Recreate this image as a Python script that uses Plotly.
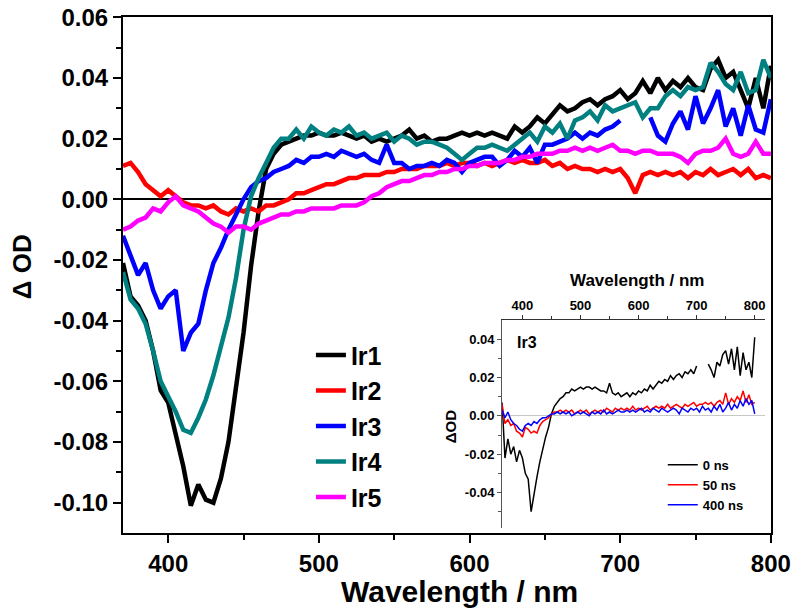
import plotly.graph_objects as go

# ---------------- main panel data ----------------
wavelength = list(range(370, 801, 5))

ir1 = [-0.021, -0.032, -0.035, -0.040, -0.050, -0.063, -0.067, -0.078, -0.088, -0.101,
       -0.094, -0.099, -0.100, -0.092, -0.080, -0.062, -0.044, -0.022, -0.004, 0.010,
       0.015, 0.018, 0.019, 0.020, 0.021, 0.021, 0.022, 0.021, 0.021, 0.022,
       0.021, 0.020, 0.021, 0.019, 0.020, 0.019, 0.020, 0.021, 0.023, 0.020,
       0.021, 0.019, 0.020, 0.020, 0.021, 0.022, 0.021, 0.022, 0.021, 0.022,
       0.021, 0.020, 0.024, 0.022, 0.024, 0.027, 0.025, 0.028, 0.031, 0.029,
       0.030, 0.032, 0.033, 0.031, 0.033, 0.034, 0.036, 0.033, 0.035, 0.039,
       0.035, 0.040, 0.036, 0.039, 0.037, 0.040, 0.037, 0.036, 0.043, 0.046,
       0.040, 0.042, 0.036, 0.030, 0.040, 0.030, 0.044]

ir2 = [0.011, 0.012, 0.009, 0.005, 0.003, 0.001, 0.003, 0.001, -0.001, -0.002,
       -0.002, -0.003, -0.002, -0.004, -0.005, -0.003, -0.004, -0.003, -0.004, -0.002,
       -0.002, -0.001, 0.000, 0.002, 0.002, 0.003, 0.004, 0.005, 0.005, 0.006,
       0.007, 0.007, 0.008, 0.008, 0.008, 0.009, 0.009, 0.010, 0.010, 0.010,
       0.011, 0.011, 0.011, 0.012, 0.011, 0.012, 0.012, 0.011, 0.012, 0.011,
       0.012, 0.013, 0.012, 0.013, 0.012, 0.012, 0.013, 0.011, 0.012, 0.010,
       0.011, 0.010, 0.010, 0.009, 0.010, 0.009, 0.010, 0.007, 0.002, 0.008,
       0.009, 0.008, 0.009, 0.008, 0.009, 0.007, 0.009, 0.008, 0.010, 0.008,
       0.009, 0.010, 0.008, 0.010, 0.007, 0.008, 0.007]

ir3 = [-0.012, -0.019, -0.025, -0.021, -0.030, -0.036, -0.032, -0.030, -0.050, -0.044,
       -0.041, -0.030, -0.021, -0.016, -0.010, -0.005, 0.000, 0.004, 0.006, 0.007,
       0.009, 0.010, 0.011, 0.013, 0.012, 0.014, 0.014, 0.015, 0.014, 0.016,
       0.015, 0.014, 0.015, 0.013, 0.012, 0.018, 0.012, 0.012, 0.010, 0.011,
       0.011, 0.012, 0.011, 0.013, 0.012, 0.009, 0.012, 0.013, 0.014, 0.014,
       0.011, 0.013, 0.016, 0.014, 0.017, 0.012, 0.018, 0.018, 0.019, 0.020,
       0.022, 0.020, 0.022, 0.021, 0.023, 0.024, 0.026, None, None, None,
       0.027, 0.021, 0.019, 0.025, 0.029, 0.023, 0.034, 0.025, 0.030, 0.036,
       0.024, 0.030, 0.021, 0.031, 0.023, 0.022, 0.033]

ir4 = [-0.024, -0.033, -0.036, -0.041, -0.050, -0.060, -0.065, -0.070, -0.076, -0.077,
       -0.072, -0.066, -0.058, -0.049, -0.039, -0.026, -0.010, 0.001, 0.007, 0.012,
       0.017, 0.020, 0.020, 0.023, 0.020, 0.024, 0.022, 0.021, 0.023, 0.022,
       0.024, 0.021, 0.022, 0.020, 0.021, 0.022, 0.019, 0.021, 0.020, 0.018,
       0.019, 0.019, 0.018, 0.017, 0.015, 0.013, 0.015, 0.017, 0.017, 0.018,
       0.017, 0.016, 0.018, 0.020, 0.022, 0.019, 0.024, 0.022, 0.025, 0.020,
       0.026, 0.027, 0.029, 0.026, 0.031, 0.029, 0.030, 0.031, 0.032, 0.027,
       0.030, 0.030, 0.034, 0.036, 0.034, 0.037, 0.036, 0.037, 0.045, 0.042,
       0.038, 0.036, 0.042, 0.035, 0.036, 0.046, 0.040]

ir5 = [-0.010, -0.009, -0.007, -0.006, -0.003, -0.004, -0.001, 0.001, -0.002, -0.003,
       -0.004, -0.006, -0.008, -0.009, -0.011, -0.009, -0.009, -0.010, -0.008, -0.007,
       -0.006, -0.005, -0.005, -0.004, -0.004, -0.003, -0.003, -0.003, -0.003, -0.002,
       -0.002, -0.002, -0.001, 0.001, 0.002, 0.004, 0.005, 0.006, 0.006, 0.007,
       0.008, 0.008, 0.009, 0.009, 0.010, 0.010, 0.011, 0.011, 0.012, 0.012,
       0.012, 0.013, 0.013, 0.014, 0.014, 0.015, 0.015, 0.015, 0.016, 0.016,
       0.017, 0.016, 0.017, 0.016, 0.017, 0.018, 0.016, 0.016, 0.015, 0.016,
       0.016, 0.015, 0.015, 0.015, 0.014, 0.012, 0.015, 0.016, 0.016, 0.017,
       0.020, 0.015, 0.014, 0.015, 0.019, 0.015, 0.015]

series_names = ["Ir1", "Ir2", "Ir3", "Ir4", "Ir5"]
series_colors = ["#000000", "#FF0000", "#0000FF", "#008080", "#FF00FF"]

main_xticks = [400, 500, 600, 700, 800]
main_xminor = [450, 550, 650, 750]
main_yticks = [0.06, 0.04, 0.02, 0.00, -0.02, -0.04, -0.06, -0.08, -0.10]
main_yticktext = ["0.06", "0.04", "0.02", "0.00", "-0.02", "-0.04", "-0.06", "-0.08", "-0.10"]
main_yminor = [0.05, 0.03, 0.01, -0.01, -0.03, -0.05, -0.07, -0.09]

# ---------------- inset data (Ir3) ----------------
inset_wavelength = list(range(365, 801, 5))

ns0 = [0.007, -0.022, -0.012, -0.020, -0.016, -0.024, -0.018, -0.022, -0.030, -0.033,
       -0.050, -0.040, -0.032, -0.024, -0.017, -0.011, -0.006, 0.001, 0.005, 0.007,
       0.009, 0.010, 0.012, 0.012, 0.014, 0.013, 0.014, 0.015, 0.014, 0.015,
       0.015, 0.014, 0.015, 0.014, 0.013, 0.013, 0.012, 0.017, 0.012, 0.011,
       0.012, 0.010, 0.011, 0.012, 0.010, 0.012, 0.011, 0.013, 0.012, 0.014,
       0.013, 0.016, 0.014, 0.016, 0.018, 0.017, 0.019, 0.018, 0.021, 0.019,
       0.021, 0.022, 0.020, 0.023, 0.022, 0.024, 0.022, 0.026, None, None,
       None, 0.027, 0.024, 0.020, 0.028, 0.026, 0.032, 0.034, 0.027, 0.035,
       0.024, 0.036, 0.021, 0.033, 0.024, 0.028, 0.020, 0.041]

ns50 = [0.006, -0.004, -0.002, -0.005, -0.004, -0.008, -0.009, -0.011, -0.006, -0.007,
        -0.009, -0.008, -0.009, -0.005, -0.003, -0.002, -0.001, 0.001, 0.002, 0.002,
        0.003, 0.002, 0.003, 0.002, 0.003, 0.001, 0.002, 0.003, 0.002, 0.003,
        0.001, 0.002, 0.003, 0.002, 0.003, 0.002, 0.004, 0.003, 0.002, 0.004,
        0.003, 0.004, 0.003, 0.004, 0.003, 0.005, 0.003, 0.004, 0.003, 0.004,
        0.005, 0.003, 0.004, 0.005, 0.004, 0.005, 0.004, 0.006, 0.004, 0.005,
        0.006, 0.005, 0.004, 0.006, 0.005, 0.006, 0.007, 0.005, 0.006, 0.006,
        0.007, 0.006, 0.007, 0.005, 0.007, 0.008, 0.006, 0.012, 0.006, 0.009,
        0.007, 0.010, 0.008, 0.013, 0.007, 0.011, 0.006, 0.007]

ns400 = [0.003, -0.001, 0.002, -0.002, -0.004, -0.005, -0.007, -0.008, -0.005, -0.004,
         -0.005, -0.003, -0.004, -0.002, -0.001, -0.001, 0.000, 0.001, 0.001, 0.002,
         0.001, 0.002, 0.001, 0.002, 0.000, 0.001, 0.002, 0.001, 0.002, 0.001,
         0.000, 0.002, 0.001, 0.002, 0.001, 0.003, 0.001, 0.002, 0.001, 0.002,
         0.003, 0.002, 0.002, 0.003, 0.002, 0.003, 0.002, 0.003, 0.004, 0.002,
         0.003, 0.002, 0.004, 0.003, 0.002, 0.004, 0.003, 0.002, 0.003, 0.004,
         0.003, 0.001, 0.004, 0.003, 0.002, 0.004, 0.003, 0.004, 0.002, 0.005,
         0.003, 0.004, 0.002, 0.005, 0.003, 0.006, 0.002, 0.004, 0.007, 0.003,
         0.006, 0.004, 0.008, 0.005, 0.009, 0.006, 0.008, 0.001]

inset_names = ["0 ns", "50 ns", "400 ns"]
inset_colors = ["#000000", "#FF0000", "#0000FF"]

inset_xticks = [400, 500, 600, 700, 800]
inset_xminor = [450, 550, 650, 750]
inset_yticks = [0.04, 0.02, 0.00, -0.02, -0.04]
inset_yticktext = ["0.04", "0.02", "0.00", "-0.02", "-0.04"]
inset_yminor = [0.03, 0.01, -0.01, -0.03, -0.05]

FONT = "Liberation Sans, Arial, sans-serif"

fig = go.Figure()

for name, color, ys in zip(series_names, series_colors, [ir1, ir2, ir3, ir4, ir5]):
    fig.add_trace(go.Scatter(x=wavelength, y=ys, mode="lines", name=name,
                             line=dict(color=color, width=4.5),
                             xaxis="x", yaxis="y", legend="legend"))

for name, color, ys in zip(inset_names, inset_colors, [ns0, ns50, ns400]):
    fig.add_trace(go.Scatter(x=inset_wavelength, y=ys, mode="lines", name=name,
                             line=dict(color=color, width=1.5),
                             xaxis="x2", yaxis="y2", legend="legend2"))

# page body has an 8px margin, so the figure is 792x606 placed at (8, 8)
fig.update_layout(
    width=792, height=606,
    margin=dict(l=115, r=29, t=9, b=81, autoexpand=False),
    paper_bgcolor="white", plot_bgcolor="white",
    font=dict(family=FONT, color="black"),
    xaxis=dict(
        domain=[0, 1], range=[370, 800.1], showgrid=False, zeroline=False, automargin=False,
        showline=True, mirror=True, linecolor="black", linewidth=2,
        ticks="outside", ticklen=8, tickwidth=2, tickcolor="black",
        tickvals=main_xticks, ticklabeloverflow="allow",
        tickfont=dict(size=24, family=FONT, weight="bold"),
        minor=dict(tickvals=main_xminor, ticks="outside", ticklen=5, tickwidth=2, tickcolor="black"),
    ),
    yaxis=dict(
        domain=[0, 1], range=[-0.11, 0.0601], showgrid=False, automargin=False,
        zeroline=True, zerolinecolor="black", zerolinewidth=2,
        showline=True, mirror=True, linecolor="black", linewidth=2,
        ticks="outside", ticklen=8, tickwidth=2, tickcolor="black",
        tickvals=main_yticks, ticktext=main_yticktext, ticklabeloverflow="allow",
        tickfont=dict(size=24, family=FONT, weight="bold"),
        minor=dict(tickvals=main_yminor, ticks="outside", ticklen=5, tickwidth=2, tickcolor="black"),
    ),
    xaxis2=dict(
        domain=[0.585, 0.991], anchor="y2", side="top", range=[365, 818], automargin=False,
        showgrid=False, zeroline=False, showline=True, linecolor="#333333", linewidth=1,
        ticks="outside", ticklen=4, tickwidth=1, tickcolor="#333333",
        tickvals=inset_xticks,
        tickfont=dict(size=13, family=FONT, weight="bold"),
        minor=dict(tickvals=inset_xminor, ticks="outside", ticklen=3, tickwidth=1, tickcolor="#333333"),
    ),
    yaxis2=dict(
        domain=[0.0097, 0.4128], anchor="x2", range=[-0.0585, 0.05], automargin=False,
        showgrid=False, zeroline=True, zerolinecolor="#c8c8c8", zerolinewidth=1,
        showline=True, linecolor="#555555", linewidth=1,
        ticks="outside", ticklen=4, tickwidth=1, tickcolor="#555555",
        tickvals=inset_yticks, ticktext=inset_yticktext,
        tickfont=dict(size=13, family=FONT, weight="bold"),
        minor=dict(tickvals=inset_yminor, ticks="outside", ticklen=3, tickwidth=1, tickcolor="#555555"),
    ),
    legend=dict(
        x=0.290, y=0.389, xanchor="left", yanchor="top",
        bgcolor="rgba(0,0,0,0)", borderwidth=0, tracegroupgap=0,
        font=dict(size=25, family=FONT, weight="bold", color="black"),
    ),
    legend2=dict(
        x=0.833, y=0.161, xanchor="left", yanchor="top",
        bgcolor="rgba(0,0,0,0)", borderwidth=0, tracegroupgap=0,
        font=dict(size=13, family=FONT, weight="bold", color="black"),
    ),
    annotations=[
        dict(text="Wavelength / nm", xref="paper", yref="paper", x=0.52, y=-0.114,
             xanchor="center", yanchor="middle", showarrow=False,
             font=dict(size=30, family=FONT, weight="bold")),
        dict(text="Δ OD", xref="paper", yref="paper", x=-0.156, y=0.517,
             xanchor="center", yanchor="middle", showarrow=False, textangle=-90,
             font=dict(size=26, family=FONT, weight="bold")),
        dict(text="Wavelength / nm", xref="paper", yref="paper", x=0.793, y=0.490,
             xanchor="center", yanchor="middle", showarrow=False,
             font=dict(size=17, family=FONT, weight="bold")),
        dict(text="ΔOD", xref="paper", yref="paper", x=0.505, y=0.2054,
             xanchor="center", yanchor="middle", showarrow=False, textangle=-90,
             font=dict(size=15, family=FONT, weight="bold")),
        dict(text="Ir3", xref="paper", yref="paper", x=0.6235, y=0.370,
             xanchor="center", yanchor="middle", showarrow=False,
             font=dict(size=16, family=FONT, weight="bold")),
    ],
)

fig.write_html("out.html")
